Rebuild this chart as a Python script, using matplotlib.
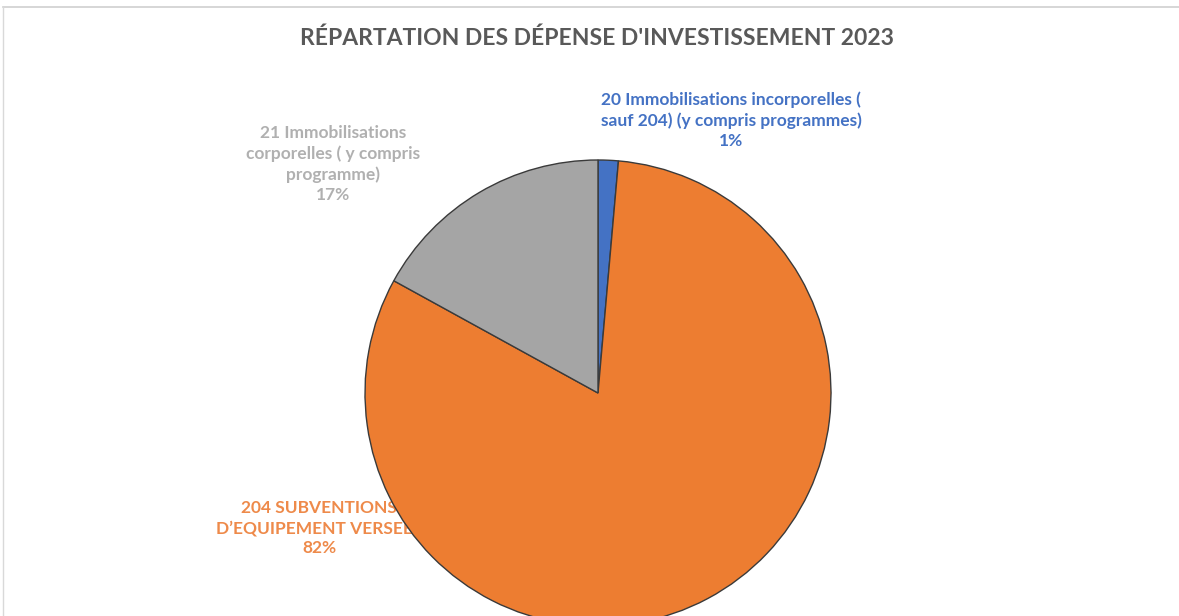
import matplotlib
matplotlib.use("Agg")
import matplotlib.pyplot as plt
from matplotlib.lines import Line2D

# Investment spending split, 2023 (share of total, %)
categories = [
    "20 Immobilisations incorporelles (\nsauf 204) (y compris programmes)",
    "204 SUBVENTIONS\nD\u2019EQUIPEMENT VERSEES",
    "21 Immobilisations\ncorporelles ( y compris\nprogramme)",
]
shares = [1.4, 81.6, 17.0]
colors = ["#4472C4", "#ED7D31", "#A5A5A5"]
label_colors = ["#4472C4", "#EE8A4A", "#B0B0B0"]

W, H = 1179, 616
fig = plt.figure(figsize=(W / 100, H / 100), dpi=100)
ax = fig.add_axes([0, 0, 1, 1])

wedges, _ = ax.pie(shares, colors=colors, startangle=90, counterclock=False,
                   center=(598, H - 393), radius=233, frame=True,
                   wedgeprops=dict(edgecolor="#3a3a3a", linewidth=1.0))
for w in wedges:
    w.set_zorder(2)

ax.set_xlim(0, W)
ax.set_ylim(0, H)
ax.set_aspect("equal")
ax.axis("off")

font = ["Lato", "DejaVu Sans"]
ax.text(597, H - 38, "RÉPARTATION DES DÉPENSE D'INVESTISSEMENT 2023",
        ha="center", va="center", fontsize=16.5, fontweight="bold",
        color="#595959", family=font)

# data labels: category name + rounded percentage
label_pos = [(731, H - 120), (319, H - 528), (333, H - 164)]
for name, val, c, (x, y) in zip(categories, shares, label_colors, label_pos):
    ax.text(x, y, f"{name}\n{val:.0f}%", ha="center", va="center",
            fontsize=12.5, fontweight="bold", color=c, family=font,
            linespacing=1.3, zorder=1)

# chart area border
fig.add_artist(Line2D([3 / W, 1], [1 - 7 / H, 1 - 7 / H], color="#d0d0d0", lw=1.2))
fig.add_artist(Line2D([3 / W, 3 / W], [0, 1 - 7 / H], color="#d9d9d9", lw=1.0))

fig.savefig("out.png", dpi=100, facecolor="white")
